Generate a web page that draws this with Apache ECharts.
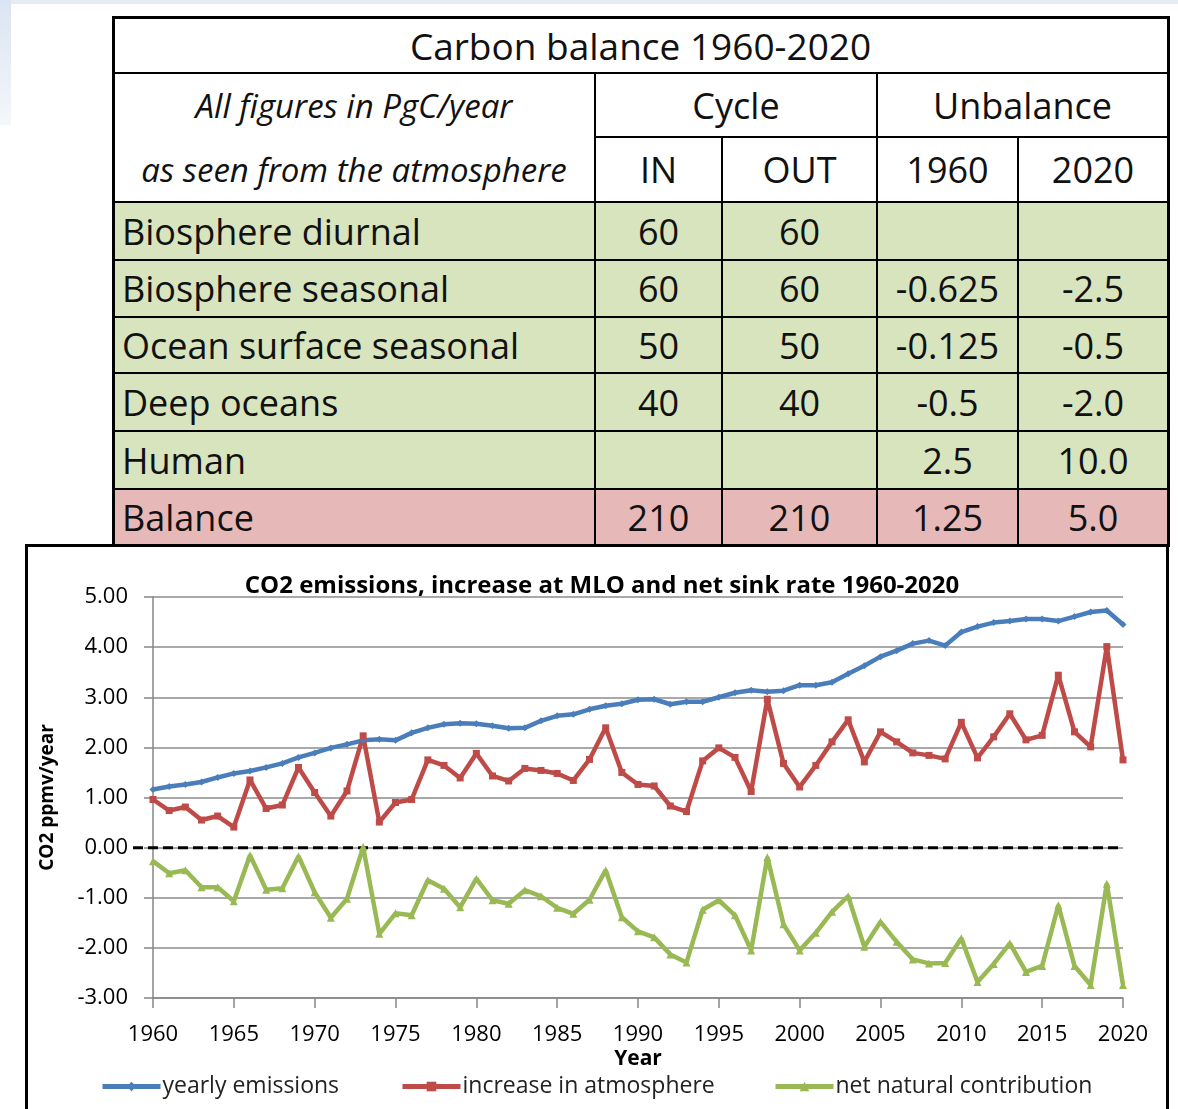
<!DOCTYPE html>
<html>
<head>
<meta charset="utf-8">
<script src="https://cdn.jsdelivr.net/npm/echarts@6/dist/echarts.min.js"></script>
<style>
  html, body { margin: 0; padding: 0; background: #fff; }
  body { width: 1178px; height: 1109px; overflow: hidden; position: relative; font-family: 'Open Sans', sans-serif; }
  #topband { position: absolute; left: 0; top: 0; width: 1178px; height: 4px; background: #e6ecf6; }
  #leftband { position: absolute; left: 0; top: 0; width: 11px; height: 125px; background: linear-gradient(#dbe4f2, #f4f7fb); }
  #frame { position: absolute; left: 25px; top: 544px; width: 1144px; height: 600px; border: 3px solid #000; box-sizing: border-box; z-index: 1; }
  #chart { position: absolute; left: 0; top: 0; width: 1178px; height: 1109px; z-index: 2; }
  #tbl { position: absolute; left: 0; top: 0; z-index: 3; }
  .cell { position: absolute; display: flex; align-items: center; justify-content: center; color: #111; box-sizing: border-box; white-space: nowrap; }
  .line { position: absolute; background: #000; }
</style>
</head>
<body>
<div id="topband"></div>
<div id="leftband"></div>
<div id="frame"></div>
<div id="chart"></div>
<div id="tbl"></div>
<script>
// ---- table data ----
const tableTitle = 'Carbon balance 1960-2020';
const headNote = ['All figures in PgC/year', 'as seen from the atmosphere'];
const groupHeads = ['Cycle', 'Unbalance'];
const colHeads = ['IN', 'OUT', '1960', '2020'];
const rowLabels = ['Biosphere diurnal', 'Biosphere seasonal', 'Ocean surface seasonal', 'Deep oceans', 'Human', 'Balance'];
const cycleIn = ['60', '60', '50', '40', '', '210'];
const cycleOut = ['60', '60', '50', '40', '', '210'];
const unbal1960 = ['', '-0.625', '-0.125', '-0.5', '2.5', '1.25'];
const unbal2020 = ['', '-2.5', '-0.5', '-2.0', '10.0', '5.0'];

// ---- chart data ----
const years = ['1960','1961','1962','1963','1964','1965','1966','1967','1968','1969',
  '1970','1971','1972','1973','1974','1975','1976','1977','1978','1979',
  '1980','1981','1982','1983','1984','1985','1986','1987','1988','1989',
  '1990','1991','1992','1993','1994','1995','1996','1997','1998','1999',
  '2000','2001','2002','2003','2004','2005','2006','2007','2008','2009',
  '2010','2011','2012','2013','2014','2015','2016','2017','2018','2019','2020'];
const emissions = [1.16, 1.22, 1.26, 1.31, 1.40, 1.48, 1.53, 1.60, 1.68, 1.80,
  1.89, 1.99, 2.06, 2.14, 2.16, 2.14, 2.29, 2.39, 2.46, 2.48,
  2.47, 2.43, 2.38, 2.39, 2.53, 2.63, 2.66, 2.76, 2.83, 2.87,
  2.95, 2.96, 2.86, 2.91, 2.91, 3.00, 3.09, 3.14, 3.11, 3.13,
  3.24, 3.24, 3.30, 3.47, 3.63, 3.81, 3.93, 4.07, 4.13, 4.03,
  4.30, 4.41, 4.49, 4.52, 4.56, 4.56, 4.52, 4.61, 4.70, 4.73, 4.45];
const increase = [0.96, 0.74, 0.81, 0.55, 0.63, 0.41, 1.35, 0.78, 0.85, 1.60,
  1.10, 0.63, 1.13, 2.23, 0.51, 0.90, 0.96, 1.75, 1.64, 1.39,
  1.88, 1.43, 1.33, 1.58, 1.54, 1.48, 1.34, 1.76, 2.39, 1.50,
  1.26, 1.23, 0.83, 0.72, 1.73, 1.99, 1.80, 1.12, 2.96, 1.68,
  1.21, 1.64, 2.11, 2.55, 1.71, 2.31, 2.11, 1.89, 1.84, 1.77,
  2.50, 1.79, 2.21, 2.67, 2.15, 2.24, 3.44, 2.31, 2.01, 4.01, 1.75];
const natural = [-0.27, -0.51, -0.45, -0.79, -0.79, -1.07, -0.15, -0.84, -0.81, -0.17,
  -0.89, -1.40, -1.02, 0.01, -1.72, -1.31, -1.35, -0.65, -0.82, -1.19,
  -0.62, -1.05, -1.12, -0.85, -0.97, -1.20, -1.32, -1.04, -0.45, -1.39,
  -1.67, -1.79, -2.13, -2.29, -1.24, -1.05, -1.35, -2.05, -0.19, -1.53,
  -2.05, -1.70, -1.28, -0.97, -1.98, -1.48, -1.88, -2.23, -2.31, -2.30,
  -1.81, -2.68, -2.32, -1.91, -2.48, -2.36, -1.15, -2.36, -2.74, -0.72, -2.74];
const seriesNames = ['yearly emissions', 'increase in atmosphere', 'net natural contribution'];

// ---- build the table ----
const tbl = document.getElementById('tbl');
const colX = [113, 595, 722, 877, 1018, 1168];
const rowY = [17, 73, 137, 202, 260, 317, 373, 431, 489, 545];
const green = '#d7e4bd', pink = '#e6b9b8';

function cell(c0, c1, r0, r1, text, css) {
  let d = document.createElement('div');
  d.className = 'cell';
  d.style.left = colX[c0] + 'px';
  d.style.width = (colX[c1] - colX[c0]) + 'px';
  d.style.top = rowY[r0] + 'px';
  d.style.height = (rowY[r1] - rowY[r0]) + 'px';
  d.style.fontSize = '36px';
  Object.assign(d.style, css || {});
  d.textContent = text;
  tbl.appendChild(d);
}
function hline(x0, x1, y, w) {
  let d = document.createElement('div');
  d.className = 'line';
  d.style.left = (x0 - w / 2) + 'px'; d.style.width = (x1 - x0 + w) + 'px';
  d.style.top = (y - w / 2) + 'px'; d.style.height = w + 'px';
  tbl.appendChild(d);
}
function vline(x, y0, y1, w) {
  let d = document.createElement('div');
  d.className = 'line';
  d.style.left = (x - w / 2) + 'px'; d.style.width = w + 'px';
  d.style.top = (y0 - w / 2) + 'px'; d.style.height = (y1 - y0 + w) + 'px';
  tbl.appendChild(d);
}

cell(0, 5, 0, 1, tableTitle, {background: '#fff', fontSize: '37px'});
cell(0, 1, 1, 2, headNote[0], {background: '#fff', fontStyle: 'italic', fontSize: '33px'});
cell(0, 1, 2, 3, headNote[1], {background: '#fff', fontStyle: 'italic', fontSize: '33px'});
cell(1, 3, 1, 2, groupHeads[0], {background: '#fff'});
cell(3, 5, 1, 2, groupHeads[1], {background: '#fff'});
colHeads.forEach((h, i) => cell(i + 1, i + 2, 2, 3, h, {background: '#fff'}));
rowLabels.forEach((lab, i) => {
  let bg = i === rowLabels.length - 1 ? pink : green;
  let r = 3 + i;
  cell(0, 1, r, r + 1, lab, {background: bg, justifyContent: 'flex-start', paddingLeft: '9px'});
  cell(1, 2, r, r + 1, cycleIn[i], {background: bg});
  cell(2, 3, r, r + 1, cycleOut[i], {background: bg});
  cell(3, 4, r, r + 1, unbal1960[i], {background: bg});
  cell(4, 5, r, r + 1, unbal2020[i], {background: bg});
});
// grid lines of the table
hline(colX[0], colX[5], rowY[1], 2);
hline(colX[1], colX[5], rowY[2], 2);
for (let r = 3; r < rowY.length - 1; r++) hline(colX[0], colX[5], rowY[r], 2);
vline(colX[1], rowY[1], rowY[9], 2);
vline(colX[2], rowY[2], rowY[9], 2);
vline(colX[3], rowY[1], rowY[9], 2);
vline(colX[4], rowY[2], rowY[9], 2);
// outer border
hline(colX[0], colX[5], rowY[0], 3);
hline(colX[0], colX[5], rowY[9], 3);
vline(colX[0], rowY[0], rowY[9], 3);
vline(colX[5], rowY[0], rowY[9], 3);

// ---- chart ----
let chartDom = document.getElementById('chart');
let myChart = echarts.init(chartDom);
let option;

const axisGray = '#868686';
const mkSeries = (name, data, color, symbol, size) => ({
  name: name,
  type: 'line',
  data: data,
  symbol: symbol,
  symbolSize: size,
  showSymbol: true,
  itemStyle: {color: color},
  lineStyle: {color: color, width: 4.5},
  z: 3
});

option = {
  animation: false,
  textStyle: {fontFamily: 'Open Sans', color: '#000'},
  title: {
    text: 'CO2 emissions, increase at MLO and net sink rate 1960-2020',
    left: 597,
    top: 569,
    textAlign: 'center',
    textStyle: {fontSize: 24, fontWeight: 'bold', color: '#000', fontFamily: 'Open Sans'}
  },
  legend: seriesNames.map((n, i) => ({
    data: [n],
    left: [100, 400, 773][i],
    top: 1075,
    padding: 0,
    itemWidth: 58,
    itemHeight: 12,
    itemGap: 0,
    lineStyle: {width: 5},
    textStyle: {fontSize: 23, color: '#222', fontFamily: 'Open Sans', padding: [0, 0, 0, -3]}
  })),
  grid: {
    left: 153,
    right: 55,
    top: 597,
    bottom: 111,
    containLabel: false,
    outerBoundsMode: 'none'
  },
  xAxis: {
    type: 'category',
    data: years,
    boundaryGap: false,
    name: 'Year',
    nameLocation: 'middle',
    nameGap: 51,
    nameTextStyle: {fontSize: 21, fontWeight: 'bold', color: '#000'},
    axisLine: {onZero: false, lineStyle: {color: axisGray, width: 1.5}},
    axisTick: {show: true, interval: 4, length: 10, lineStyle: {color: axisGray, width: 1.5}},
    axisLabel: {interval: 4, margin: 26, fontSize: 22, color: '#000'},
    splitLine: {show: false}
  },
  yAxis: {
    type: 'value',
    min: -3,
    max: 5,
    interval: 1,
    name: 'CO2 ppmv/year',
    nameLocation: 'middle',
    nameGap: 96,
    nameTextStyle: {fontSize: 19, fontWeight: 'bold', color: '#000'},
    axisLine: {show: true, lineStyle: {color: axisGray, width: 1.5}},
    axisTick: {show: true, length: 9, lineStyle: {color: axisGray, width: 1.5}},
    axisLabel: {margin: 25, fontSize: 22, color: '#000', formatter: v => v.toFixed(2)},
    splitLine: {show: true, lineStyle: {color: '#8c8c8c', width: 1.5}}
  },
  series: [
    mkSeries(seriesNames[0], emissions, '#4a7ebb', 'diamond', 7),
    mkSeries(seriesNames[1], increase, '#be4b48', 'rect', 7),
    mkSeries(seriesNames[2], natural, '#98b954', 'triangle', 8)
  ]
};

option && myChart.setOption(option);

// dashed zero line, placed with the chart's own scales
const y0 = myChart.convertToPixel({yAxisIndex: 0}, 0);
const xa = myChart.convertToPixel({xAxisIndex: 0}, years[0]);
const xb = myChart.convertToPixel({xAxisIndex: 0}, years[years.length - 1]);
myChart.setOption({
  graphic: [{
    type: 'line',
    z: 2,
    shape: {x1: xa - 20, y1: y0, x2: xb, y2: y0},
    style: {stroke: '#000', lineWidth: 3, lineDash: [10, 5]}
  }]
});
</script>
</body>
</html>
